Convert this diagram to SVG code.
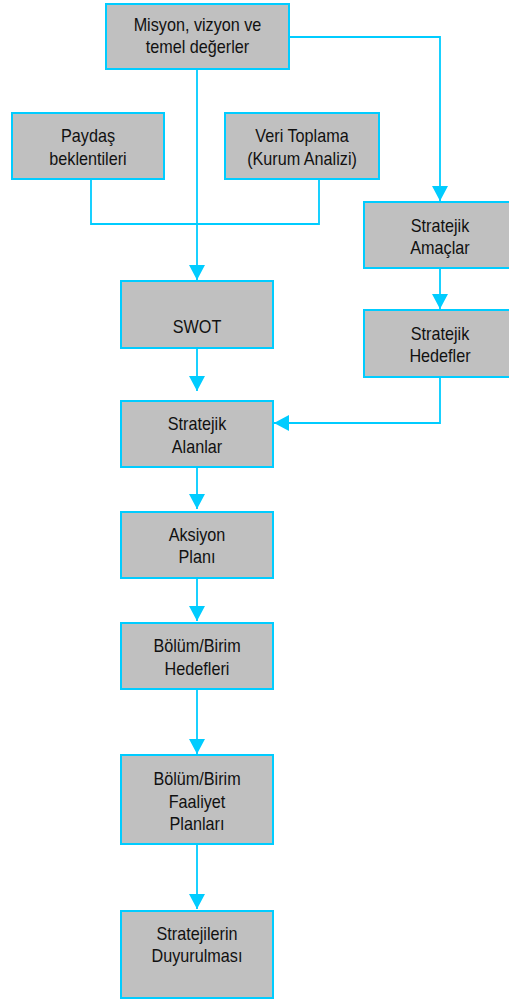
<svg xmlns="http://www.w3.org/2000/svg" width="509" height="1003" viewBox="0 0 509 1003">
<defs>
<style>
.box{fill:#C0C0C0;stroke:#00CCFF;stroke-width:2}
.c{fill:none;stroke:#00CCFF;stroke-width:1.8}
.t{font-family:"Liberation Sans",Arial,sans-serif;font-size:18px;fill:#111;text-anchor:middle}
</style>
<marker id="ah" markerUnits="userSpaceOnUse" markerWidth="16" markerHeight="16" refX="15" refY="8" orient="auto">
<path d="M0,0 L15,8 L0,16 z" fill="#00CCFF"/>
</marker>
</defs>
<rect width="509" height="1003" fill="#fff"/>
<g id="connectors">
<path class="c" d="M91,179 V224 H319 V179"/>
<path class="c" d="M197,69 V280" marker-end="url(#ah)"/>
<path class="c" d="M289,37 H440 V201" marker-end="url(#ah)"/>
<path class="c" d="M440,268 V309" marker-end="url(#ah)"/>
<path class="c" d="M440,377 V423 H274" marker-end="url(#ah)"/>
<path class="c" d="M197,348 V391" marker-end="url(#ah)"/>
<path class="c" d="M197,467 V509" marker-end="url(#ah)"/>
<path class="c" d="M197,578 V621" marker-end="url(#ah)"/>
<path class="c" d="M197,689 V754" marker-end="url(#ah)"/>
<path class="c" d="M197,844 V909" marker-end="url(#ah)"/>
</g>
<g id="misyon">
<rect class="box" x="106" y="4" width="183" height="65"/>
<g transform="translate(197.5,0) scale(0.9,1)"><text class="t" x="0" y="31">Misyon, vizyon ve</text><text class="t" x="0" y="53">temel değerler</text></g>
</g>
<g id="paydas">
<rect class="box" x="12" y="113" width="152" height="66"/>
<g transform="translate(88,0) scale(0.9,1)"><text class="t" x="0" y="142">Paydaş</text><text class="t" x="0" y="165">beklentileri</text></g>
</g>
<g id="veri">
<rect class="box" x="225" y="113" width="154" height="66"/>
<g transform="translate(302,0) scale(0.9,1)"><text class="t" x="0" y="142">Veri Toplama</text><text class="t" x="0" y="165">(Kurum Analizi)</text></g>
</g>
<g id="amaclar">
<rect class="box" x="364" y="202" width="152" height="66"/>
<g transform="translate(440,0) scale(0.9,1)"><text class="t" x="0" y="232">Stratejik</text><text class="t" x="0" y="254">Amaçlar</text></g>
</g>
<g id="hedefler">
<rect class="box" x="364" y="310" width="152" height="67"/>
<g transform="translate(440,0) scale(0.9,1)"><text class="t" x="0" y="340">Stratejik</text><text class="t" x="0" y="362">Hedefler</text></g>
</g>
<g id="swot">
<rect class="box" x="121" y="281" width="152" height="67"/>
<g transform="translate(197,0) scale(0.9,1)"><text class="t" x="0" y="333">SWOT</text></g>
</g>
<g id="alanlar">
<rect class="box" x="121" y="401" width="152" height="66"/>
<g transform="translate(197,0) scale(0.9,1)"><text class="t" x="0" y="430">Stratejik</text><text class="t" x="0" y="453">Alanlar</text></g>
</g>
<g id="aksiyon">
<rect class="box" x="121" y="512" width="152" height="66"/>
<g transform="translate(197,0) scale(0.9,1)"><text class="t" x="0" y="541">Aksiyon</text><text class="t" x="0" y="563">Planı</text></g>
</g>
<g id="bolumhedef">
<rect class="box" x="121" y="623" width="152" height="66"/>
<g transform="translate(197,0) scale(0.9,1)"><text class="t" x="0" y="652">Bölüm/Birim</text><text class="t" x="0" y="675">Hedefleri</text></g>
</g>
<g id="faaliyet">
<rect class="box" x="121" y="755" width="152" height="89"/>
<g transform="translate(197,0) scale(0.9,1)"><text class="t" x="0" y="785">Bölüm/Birim</text><text class="t" x="0" y="808">Faaliyet</text><text class="t" x="0" y="830">Planları</text></g>
</g>
<g id="duyuru">
<rect class="box" x="121" y="911" width="152" height="87"/>
<g transform="translate(197,0) scale(0.9,1)"><text class="t" x="0" y="940">Stratejilerin</text><text class="t" x="0" y="962">Duyurulması</text></g>
</g>
</svg>
